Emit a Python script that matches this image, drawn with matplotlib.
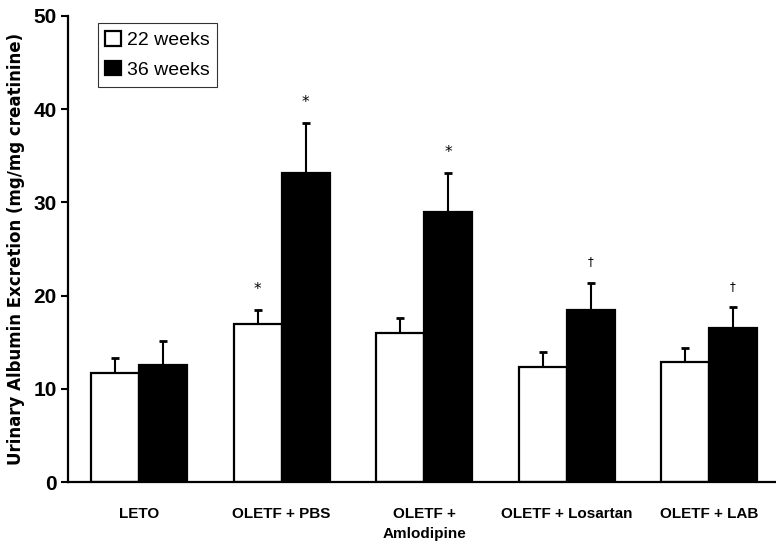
import numpy as np
import matplotlib
matplotlib.use("Agg")
import matplotlib.pyplot as plt

plt.rcParams['font.family'] = ['Liberation Sans Narrow', 'Liberation Sans', 'DejaVu Sans']
plt.rcParams['font.weight'] = 'bold'

groups = ['LETO', 'OLETF + PBS', 'OLETF +\nAmlodipine', 'OLETF + Losartan', 'OLETF + LAB']
wk22 = [11.7, 16.9, 16.0, 12.3, 12.9]
wk22_err = [1.6, 1.5, 1.6, 1.7, 1.5]
wk36 = [12.6, 33.1, 29.0, 18.4, 16.5]
wk36_err = [2.5, 5.4, 4.2, 3.0, 2.3]
marks22 = ['', '*', '', '', '']
marks36 = ['', '*', '*', '\u2020', '\u2020']

fig = plt.figure(figsize=(7.76, 5.49), dpi=100)
ax = fig.add_axes([0.0876, 0.122, 0.9124, 0.849])

x = np.arange(len(groups))
w = 0.337
ax.bar(x - w/2, wk22, w, color='white', edgecolor='black', linewidth=1.6, label='22 weeks', zorder=2)
ax.bar(x + w/2, wk36, w, color='black', edgecolor='black', linewidth=1.6, label='36 weeks', zorder=2)
ax.errorbar(x - w/2, wk22, yerr=[np.zeros(len(x)), wk22_err], fmt='none', ecolor='black',
            elinewidth=1.5, capsize=3, capthick=2, zorder=1)
ax.errorbar(x + w/2, wk36, yerr=[np.zeros(len(x)), wk36_err], fmt='none', ecolor='black',
            elinewidth=1.5, capsize=3, capthick=2, zorder=1)

for i in range(len(x)):
    if marks22[i]:
        ax.text(x[i] - w/2, wk22[i] + wk22_err[i] + 2.2, marks22[i], ha='center', va='center',
                fontsize=11, family=['DejaVu Sans'], fontweight='normal')
    if marks36[i]:
        ax.text(x[i] + w/2, wk36[i] + wk36_err[i] + 2.2, marks36[i], ha='center', va='center',
                fontsize=11 if marks36[i] == '*' else 8.5, family=['DejaVu Sans'], fontweight='normal')

ax.set_xlim(-0.5, 4.47)
ax.set_ylim(0, 50)
ax.set_yticks([0, 10, 20, 30, 40, 50])
ax.set_xticks(x)
ax.set_xticklabels(groups, fontsize=11, fontweight='bold', linespacing=1.5)
ax.tick_params(axis='x', length=0, pad=18)
ax.tick_params(axis='y', length=5, width=1.5, labelsize=15, pad=3, direction='out')
for lab in ax.get_yticklabels():
    lab.set_fontweight('bold')

ax.spines['top'].set_visible(False)
ax.spines['right'].set_visible(False)
ax.spines['left'].set_linewidth(1.6)
ax.spines['bottom'].set_linewidth(1.6)

ax.set_ylabel('Urinary Albumin Excretion (mg/mg creatinine)', fontsize=12, fontweight='bold',
              family=['DejaVu Sans'], labelpad=6)

leg = ax.legend(loc='upper left', bbox_to_anchor=(0.042, 0.985), fontsize=14, frameon=True,
                fancybox=False, edgecolor='black', handlelength=0.8, handleheight=0.8,
                handletextpad=0.3, borderpad=0.4, labelspacing=0.6, borderaxespad=0)
leg.get_frame().set_linewidth(0.8)
for t in leg.get_texts():
    t.set_fontweight('normal')

fig.savefig('out.png', dpi=100)
